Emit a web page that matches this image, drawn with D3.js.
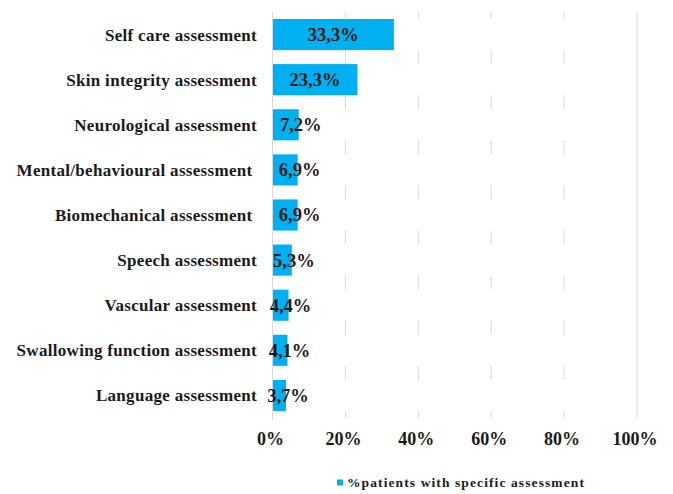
<!DOCTYPE html>
<html><head><meta charset="utf-8">
<script src="https://cdn.jsdelivr.net/npm/d3@7"></script>
<style>body{margin:0;background:#fff}svg{display:block}</style>
</head><body>
<svg id="c" width="673" height="494"></svg>
<script>
const categories = ["Self care assessment","Skin integrity assessment","Neurological assessment","Mental/behavioural assessment ","Biomechanical assessment ","Speech assessment","Vascular assessment","Swallowing function assessment","Language assessment"];
const values = [33.3,23.3,7.2,6.9,6.9,5.3,4.4,4.1,3.7];
const valueLabels = ["33,3%","23,3%","7,2%","6,9%","6,9%","5,3%","4,4%","4,1%","3,7%"];
const xTicks = [0,20,40,60,80,100];
const seriesName = "%patients with specific assessment";

const svg = d3.select("#c");
const font = "'Liberation Serif','Times New Roman',serif";
const x = d3.scaleLinear().domain([0,100]).range([272.5,637]);
const y = d3.scaleBand().domain(categories).range([12,418]).paddingInner(0.31).paddingOuter(0.155);
const bw = y.bandwidth();

// gridline segments (visible in gaps between rows)
const gaps = [];
categories.forEach((c,i)=>{
  const top = i===0 ? y.range()[0] : y(categories[i-1])+bw;
  gaps.push([top, y(c)]);
});
gaps.push([y(categories[categories.length-1])+bw, y.range()[1]]);
const g = svg.append("g");
xTicks.filter(t=>t>0 && t<100).forEach(t=>{
  gaps.forEach(([a,b])=>{
    g.append("line").attr("x1",x(t)).attr("x2",x(t)).attr("y1",a).attr("y2",b)
     .attr("stroke","#d9d9d9").attr("stroke-width",1);
  });
});
g.append("line").attr("x1",x(100)).attr("x2",x(100)).attr("y1",y.range()[0]).attr("y2",y.range()[1])
 .attr("stroke","#d9d9d9").attr("stroke-width",1);

// bars
svg.append("g").selectAll("rect").data(values).join("rect")
  .attr("x",x(0)).attr("y",(d,i)=>y(categories[i]))
  .attr("width",d=>x(d)-x(0)).attr("height",bw)
  .attr("fill","#00B0F0");

// category axis line
svg.append("line").attr("x1",x(0)).attr("x2",x(0)).attr("y1",y.range()[0]).attr("y2",y.range()[1]+2)
  .attr("stroke","#d9d9d9").attr("stroke-width",1);

// category labels
svg.append("g").selectAll("text").data(categories).join("text")
  .attr("x",257).attr("y",d=>y(d)+bw/2).attr("dy","0.35em")
  .attr("text-anchor","end").style("white-space","pre")
  .attr("font-family",font).attr("font-weight","bold").attr("font-size",17)
  .attr("letter-spacing",0.3).attr("fill","#1a1a1a").text(d=>d);

// value labels
svg.append("g").selectAll("text").data(values).join("text")
  .attr("x",d=>(x(d)-x(0))>60 ? (x(0)+x(d))/2 : x(d)+2)
  .attr("y",(d,i)=>y(categories[i])+bw/2).attr("dy","0.35em")
  .attr("text-anchor","middle")
  .attr("font-family",font).attr("font-weight","bold").attr("font-size",18.5)
  .attr("fill","#1a1a1a").text((d,i)=>valueLabels[i]);

// x tick labels
svg.append("g").selectAll("text").data(xTicks).join("text")
  .attr("x",d=>x(d)-2).attr("y",439).attr("dy","0.35em").attr("text-anchor","middle")
  .attr("font-family",font).attr("font-weight","bold").attr("font-size",18)
  .attr("fill","#1a1a1a").text(d=>d+"%");

// legend
svg.append("rect").attr("x",337).attr("y",479.5).attr("width",6).attr("height",6).attr("fill","#00B0F0");
svg.append("text").attr("x",347).attr("y",482.5).attr("dy","0.35em")
  .attr("font-family",font).attr("font-weight","bold").attr("font-size",13.5)
  .attr("letter-spacing",1.1).attr("fill","#1a1a1a").text(seriesName);
</script>
</body></html>
